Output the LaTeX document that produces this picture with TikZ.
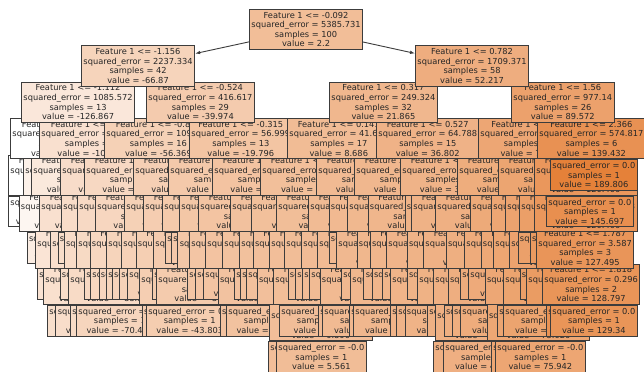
\documentclass[tikz,border=0pt]{standalone}
\usepackage{fontspec}
\setmainfont{DejaVu Sans}
\usetikzlibrary{arrows.meta}
\definecolor{sko}{RGB}{229,129,57}
\definecolor{bd}{RGB}{60,60,60}
\tikzset{
 tn/.style={draw=bd, line width=0.9bp, align=center, inner xsep=2bp, inner ysep=2.6bp,
   font=\fontsize{8.3}{9.6}\selectfont, anchor=west, text=black!85},
 arr/.style={-{Latex[length=5bp,width=3.5bp]}, draw=bd, line width=0.9bp}
}
\newcommand\Tn[5]{%
 \pgfmathsetmacro\al{max(0,min(100,(#4+200)/3.898))}%
 \node[tn,fill=sko!\al!white] (#1) at (#3,{29.5+36.4*#2}) {#5};}
\newcommand\Hn[4]{%
 \pgfmathsetmacro\vv{vx(#3)}%
 \pgfmathsetmacro\al{max(0,min(100,(\vv+200)/3.898))}%
 \pgfkeys{/pgf/number format/precision=3}\pgfmathroundtozerofill{\vv}\let\vt\pgfmathresult
 \if l#4
  \node[tn,fill=sko!\al!white] (#1) at (#3,{29.5+36.4*#2}) {squared\_error = 0.0\\samples = 1\\value = \vt};
 \else
  \node[tn,fill=sko!\al!white] (#1) at (#3,{29.5+36.4*#2}) {Feature 1 <= 0.254\\squared\_error = 21.463\\samples = 2\\value = \vt};
 \fi}
\begin{document}
\begin{tikzpicture}[x=1bp,y=-1bp,
  declare function={vx(\x)=(\x<39)?(-200+(\x-10)*3.28):((\x<189)?(-105+(\x-39)*0.5667):((\x<440)?(-20+(\x-189)*0.26):((\x<515)?(45+(\x-440)*0.6):((\x<540)?(90+(\x-515)*1.6):(130+(\x-540)*1.2)))));}]
\path[use as bounding box,clip] (0,0) rectangle (644,371);
\fill[white] (0,0) rectangle (644,371);
% level 9
\Hn{h9a}{9}{268}{l}
\Tn{l9a}{9}{276}{5.561}{squared\_error = -0.0\\samples = 1\\value = 5.561}
\Hn{h9b}{9}{433}{l}
\Hn{h9c}{9}{443}{l}
\Hn{h9d}{9}{491}{l}
\Tn{l9b}{9}{495}{75.942}{squared\_error = -0.0\\samples = 1\\value = 75.942}
% level 8
\foreach \x/\t [count=\i] in {47/l,55.4/l,70/l} {\Hn{h8a\i}{8}{\x}{\t}}
\Tn{l8a}{8}{76}{-70.452}{squared\_error = 0.0\\samples = 1\\value = -70.452}
\Hn{h8b}{8}{141.7}{l}
\Tn{l8b}{8}{145.8}{-43.803}{squared\_error = 0.0\\samples = 1\\value = -43.803}
\foreach \x/\t [count=\i] in {219.7/l,226/l,269/i,279/l,318/l,322/l,349/l,353/l,390/l,396/l,404.5/l,427/l,435/i,443.6/l,451.7/l,460/l,486.7/i,497/l,503/l,546/l} {\Hn{h8c\i}{8}{\x}{\t}}
\Tn{l8c}{8}{550}{129.34}{squared\_error = 0.0\\samples = 1\\value = 129.34}
% level 7
\foreach \x/\t [count=\i] in {37/l,43/i,59.5/l,68/i,84/l,90/l,98.5/l,106/l,111.7/l,119/l,127/l,139/i,152/l,156/i,187/l,195/l,203/l,217.7/i,234/l,240/l,246/l,256.7/i,273/i,287.5/l,295/l,302/l,309/l,319.5/i,341/l,350/i,363.4/l,371.7/l,382/l,390/i,406.6/l,417/i,433/i,447.6/i,460/l,468/l,484.6/i,503/i,519.5/l,526/i} {\Hn{h7\i}{7}{\x}{\t}}
\Tn{n7}{7}{542}{128.797}{Feature 1 <= 1.818\\squared\_error = 0.296\\samples = 2\\value = 128.797}
% level 6
\foreach \x/\t [count=\i] in {26.7/l,35/i,50/i,57.5/l,63.7/i,76/i,89.5/i,106/i,121/i,135.5/i,153/i,165/l,171/l,177.4/i,189/i,205/i,222/i,239/i,252.6/i,269/i,284/i,301/i,317/i,328.5/l,336/i,356.5/i,369.6/i,386/i,406.6/i,423/i,445.6/i,464/i,480.5/i,493/i,509/i,517.5/l,529.6/l} {\Hn{h6\i}{6}{\x}{\t}}
\Tn{n6}{6}{536}{127.495}{Feature 1 <= 1.787\\squared\_error = 3.587\\samples = 3\\value = 127.495}
% level 5
\foreach \x/\t [count=\i] in {8/l,18.5/i,39/i,61/i,77/i,95/i,124/i,143/i,162/i,179/i,198/i,230/i,250.5/i,276/i,308/i,328.5/i,347/i,367.5/i,404.5/i,411/i,435/i,470/i,491/i,505/i,519/i,534/i} {\Hn{h5\i}{5}{\x}{\t}}
\Tn{l5}{5}{546}{145.697}{squared\_error = 0.0\\samples = 1\\value = 145.697}
% level 4
\foreach \x/\t [count=\i] in {8/i,23/i,31/i,60/i,84/i,133/i,168/i,212/i,260/i,316/i,354/i,400/i,457/i,498/i,534/i} {\Hn{h4\i}{4}{\x}{\t}}
\Tn{l4}{4}{550}{189.806}{squared\_error = 0.0\\samples = 1\\value = 189.806}
% level 3
\Tn{n3a}{3}{10}{-200.09}{Feature 1 <= -1.827\\squared\_error = 172.934\\samples = 3\\value = -200.09}
\Tn{n3b}{3}{39}{-104.918}{Feature 1 <= -1.433\\squared\_error = 548.216\\samples = 10\\value = -104.918}
\Tn{n3c}{3}{104}{-56.369}{Feature 1 <= -0.826\\squared\_error = 109.427\\samples = 16\\value = -56.369}
\Tn{n3d}{3}{189}{-19.796}{Feature 1 <= -0.315\\squared\_error = 56.999\\samples = 13\\value = -19.796}
\Tn{n3e}{3}{287}{8.686}{Feature 1 <= 0.141\\squared\_error = 41.631\\samples = 17\\value = 8.686}
\Tn{n3f}{3}{376}{36.802}{Feature 1 <= 0.527\\squared\_error = 64.788\\samples = 15\\value = 36.802}
\Tn{n3g}{3}{478}{74.615}{Feature 1 <= 1.119\\squared\_error = 251.306\\samples = 20\\value = 74.615}
\Tn{n3h}{3}{537}{139.432}{Feature 1 <= 2.366\\squared\_error = 574.817\\samples = 6\\value = 139.432}
% level 2
\Tn{n2a}{2}{21}{-126.867}{Feature 1 <= -1.112\\squared\_error = 1085.572\\samples = 13\\value = -126.867}
\Tn{n2b}{2}{146}{-39.974}{Feature 1 <= -0.524\\squared\_error = 416.617\\samples = 29\\value = -39.974}
\Tn{n2c}{2}{329}{21.865}{Feature 1 <= 0.317\\squared\_error = 249.324\\samples = 32\\value = 21.865}
\Tn{n2d}{2}{511}{89.572}{Feature 1 <= 1.56\\squared\_error = 977.14\\samples = 26\\value = 89.572}
% level 1
\Tn{a}{1}{81}{-66.87}{Feature 1 <= -1.156\\squared\_error = 2237.334\\samples = 42\\value = -66.87}
\Tn{b}{1}{415}{52.217}{Feature 1 <= 0.782\\squared\_error = 1709.371\\samples = 58\\value = 52.217}
% root
\Tn{r}{0}{249}{2.2}{Feature 1 <= -0.092\\squared\_error = 5385.731\\samples = 100\\value = 2.2}
\draw[arr] (r) -- (a);
\draw[arr] (r) -- (b);
\end{tikzpicture}
\end{document}
